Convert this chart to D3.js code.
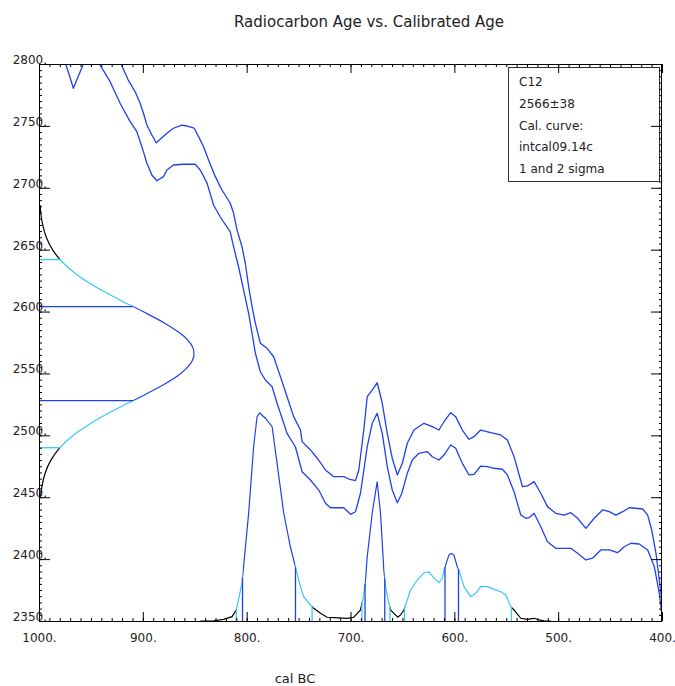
<!DOCTYPE html>
<html>
<head>
<meta charset="utf-8">
<script src="https://cdn.jsdelivr.net/npm/d3@7"></script>
<style>
  body { margin: 0; background: #fff; }
  svg { display: block; font-family: "DejaVu Sans", sans-serif; }
</style>
</head>
<body>
<div id="chart"></div>
<script>
// Radiocarbon calibration plot - C12, 2566±38, intcal09

// calibration curve envelope, [cal BC, 14C age]
const upperCurve = [
  [936, 2819], [921, 2800], [914, 2787], [907.4, 2777.6], [902.6, 2768.3], [899.4, 2760.2],
  [896.1, 2750.7], [891.3, 2742.6], [887.1, 2736.4], [883.3, 2739.2], [876.8, 2744],
  [870.5, 2748.1], [862.4, 2750.7], [857.5, 2749.9], [850.5, 2748.1], [846.3, 2741.3],
  [841.5, 2733.2], [836.7, 2722.4], [830.2, 2709], [823.8, 2698.2], [815.8, 2687.5],
  [812.6, 2679.4], [809.3, 2665.9], [804.5, 2652.4], [801.3, 2639], [798.1, 2620.1],
  [794.8, 2603.9], [791.6, 2590.5], [786.8, 2574.4], [780.4, 2570.3], [774, 2563.5],
  [767.5, 2547.4], [761.1, 2531.2], [754.7, 2515.1], [748.2, 2504.3], [746.6, 2494.9],
  [738.6, 2488.2], [732.1, 2481.5], [724.1, 2472], [716.1, 2466.6], [706.5, 2466.6],
  [701.6, 2464.7], [695.2, 2463.4], [692, 2472], [687.2, 2504.3], [683.9, 2531.2],
  [679.1, 2536.6], [674.3, 2542.5], [669.4, 2525.9], [664.6, 2501.6], [659.8, 2481.5],
  [654.9, 2468], [650.1, 2477.4], [645.3, 2493.6], [638.9, 2504.3], [629.3, 2509.7],
  [621.2, 2507], [614.8, 2504.3], [610, 2511], [603.5, 2518.3], [598.7, 2515.1],
  [592.3, 2504.3], [585.9, 2496.8], [581.1, 2498.9], [574.6, 2504.3], [565, 2502.1],
  [555.3, 2500.3], [548.9, 2496.2], [542.5, 2482.8], [534.4, 2458.5], [529.6, 2459.1],
  [523.2, 2462.6], [516.7, 2453.2], [510.3, 2442.4], [502.3, 2437], [494.3, 2435.6],
  [487.8, 2437.5], [481.3, 2433], [473.3, 2424.9], [465.3, 2433], [457.2, 2439.7],
  [450.8, 2438.3], [444.4, 2435.6], [437.9, 2438.3], [431.6, 2441.5], [425.1, 2441.1],
  [418.6, 2440.5], [413.8, 2435.6], [409.9, 2423.5], [405.8, 2404.7], [402.6, 2383.1],
  [399.3, 2361.6], [397.8, 2350.8], [396.5, 2340]
];

const lowerCurve = [
  [977.8, 2811], [974.2, 2800], [966.9, 2780.4], [957.3, 2800], [949.8, 2809.7],
  [941.8, 2800], [931.5, 2785.7], [921.9, 2768.3], [912.2, 2753.4], [905.8, 2745.3],
  [900.9, 2733.2], [896.1, 2719.8], [891.3, 2710.3], [886.5, 2705.7], [880.1, 2709],
  [876.8, 2714.4], [870.5, 2718.4], [860.8, 2719], [849.5, 2719], [844.7, 2714.4],
  [838.2, 2704], [831.9, 2686.1], [825.4, 2676.4], [815.8, 2664.3], [812.6, 2652.4],
  [807.8, 2636.2], [802.9, 2617.4], [798.1, 2598.6], [794.8, 2582.4], [791.6, 2566.3],
  [786.8, 2551.4], [782, 2544.7], [775.5, 2539.3], [770.7, 2525.9], [764.3, 2509.7],
  [761.1, 2501.6], [753.1, 2490.8], [746.6, 2470.6], [738.6, 2463.9], [730.6, 2455.8],
  [724.1, 2445.1], [719.3, 2441.5], [706.5, 2441.5], [700, 2436.2], [695.2, 2438.3],
  [690.4, 2453.2], [683.9, 2490.8], [679.1, 2509.7], [674.3, 2517.8], [669.4, 2501.6],
  [664.6, 2474.7], [659.8, 2455.9], [654.9, 2445.6], [650.8, 2452.6], [645.3, 2469.3],
  [640.5, 2480.1], [634.1, 2485.5], [626, 2486.8], [621.2, 2482.7], [614.8, 2480.1],
  [610, 2484.1], [603.5, 2492.2], [598.7, 2489.5], [592.3, 2477.4], [585.9, 2468],
  [581.1, 2468.5], [574.6, 2475.2], [568.1, 2474.7], [561.8, 2473.4], [553.7, 2472.6],
  [548.9, 2468], [542.5, 2454.5], [536, 2435.6], [531.2, 2433], [528, 2433.5],
  [523.2, 2437], [516.7, 2426.2], [510.3, 2414.1], [502.3, 2408.7], [494.3, 2408.7],
  [487.8, 2408.7], [481.3, 2404.7], [473.3, 2399.3], [466.9, 2400.7], [458.9, 2407.4],
  [450.8, 2407.4], [442.8, 2405.2], [436.4, 2410], [429.9, 2412.8], [421.9, 2412.2],
  [413.8, 2407.4], [407.4, 2393.9], [402.6, 2372.4], [399.3, 2349.5], [397, 2330]
];

// measured age distribution, [14C age, relative probability]
const ageProb = [
  [2450, 0.009], [2460, 0.021], [2470, 0.041], [2480, 0.077], [2490, 0.135],
  [2500, 0.221], [2510, 0.338], [2520, 0.480], [2530, 0.638], [2540, 0.791],
  [2550, 0.915], [2560, 0.988], [2566, 1.0], [2570, 0.995], [2580, 0.935],
  [2590, 0.819], [2600, 0.670], [2610, 0.512], [2620, 0.365], [2630, 0.243],
  [2640, 0.150], [2650, 0.087], [2660, 0.047], [2670, 0.024], [2680, 0.011], [2686, 0.008]
];
// sigma ranges, [high, low]
const ageOneSigma = [[2604, 2528]];
const ageTwoSigma = [[2642, 2490]];

// calibrated distribution, [cal BC, relative probability]
const calProb = [
  [844.7, 0], [831.9, 0.001], [822.2, 0.008], [814.1, 0.021], [810, 0.053], [804.5, 0.181],
  [798.1, 0.518], [793.3, 0.838], [790, 0.982], [787.5, 1.0], [782, 0.975], [775.5, 0.934],
  [770.7, 0.758], [764.3, 0.518], [757.9, 0.357], [753.1, 0.261], [748.2, 0.165],
  [745, 0.117], [738.6, 0.077], [735.4, 0.061], [728.9, 0.037], [722.5, 0.018],
  [716.1, 0.016], [703.2, 0.013], [696.8, 0.018], [690.4, 0.053], [688.1, 0.101],
  [685.5, 0.197], [683.9, 0.309], [679.1, 0.518], [674.3, 0.670], [671.1, 0.518],
  [667.9, 0.245], [666.2, 0.165], [663.1, 0.085], [661.4, 0.053], [658.2, 0.037],
  [654.4, 0.018], [651.8, 0.029], [648.6, 0.053], [646.9, 0.077], [642.1, 0.149],
  [635.7, 0.197], [629.3, 0.232], [624.5, 0.236], [619.7, 0.207], [614.8, 0.184],
  [611.6, 0.205], [610, 0.245], [605.2, 0.317], [603.1, 0.325], [600.4, 0.317],
  [597.1, 0.261], [595.6, 0.245], [590.7, 0.165], [584.2, 0.117], [579.4, 0.133],
  [574.6, 0.165], [568.1, 0.165], [561.8, 0.152], [555.3, 0.141], [550.5, 0.125],
  [545.7, 0.069], [542.5, 0.053], [536, 0.013], [529.6, 0.008], [523.2, 0.013],
  [518.4, 0.005], [513.6, 0.001], [507.1, 0]
];
const calOneSigma = [[804, 753], [686, 667], [609, 596]];
const calTwoSigma = [[810, 737], [689, 662], [648, 545]];

const xTicks = [1000, 900, 800, 700, 600, 500, 400];
const yTicks = [2350, 2400, 2450, 2500, 2550, 2600, 2650, 2700, 2750, 2800];
const legendLines = ["C12", "2566\u00b138", "Cal. curve:", "intcal09.14c", "1 and 2 sigma"];

const width = 675, height = 686;
const plotL = 39, plotR = 662, plotT = 64, plotB = 621;

const blue = "#2040ec", cyan = "#38c8f4";

const x = d3.scaleLinear().domain([1000, 400]).range([plotL, plotR]);
const y = d3.scaleLinear().domain([2350, 2800]).range([plotB, plotT]);
const gx = d3.scaleLinear().domain([0, 1]).range([plotL, 194]);   // age prob, sideways
const py = d3.scaleLinear().domain([0, 1]).range([plotB, 413]);   // cal prob, upward

function valueAt(pts, v) {
  for (let i = 0; i < pts.length - 1; i++) {
    const a = pts[i], b = pts[i + 1];
    if ((v - a[0]) * (v - b[0]) <= 0) {
      const t = (v - a[0]) / (b[0] - a[0]);
      return a[1] + t * (b[1] - a[1]);
    }
  }
  return 0;
}

// parts of the outer intervals not covered by the holes; intervals are [high, low]
function subtract(outer, holes) {
  const res = [];
  outer.forEach(([hi, lo]) => {
    let cur = hi;
    holes.filter(h => h[0] <= hi && h[1] >= lo)
      .sort((a, b) => b[0] - a[0])
      .forEach(h => {
        if (h[0] < cur) res.push([cur, h[0]]);
        cur = Math.min(cur, h[1]);
      });
    if (cur > lo) res.push([cur, lo]);
  });
  return res;
}

const svg = d3.select("#chart").append("svg")
  .attr("width", width)
  .attr("height", height);

const defs = svg.append("defs");
defs.append("clipPath").attr("id", "plot")
  .append("rect").attr("x", plotL).attr("y", plotT)
  .attr("width", plotR - plotL).attr("height", plotB - plotT);

// clip regions for sigma colouring
function clipAges(id, ranges) {
  const cp = defs.append("clipPath").attr("id", id);
  ranges.forEach(r => cp.append("rect")
    .attr("x", 0).attr("width", 400)
    .attr("y", y(r[0])).attr("height", y(r[1]) - y(r[0])));
}
function clipCals(id, ranges) {
  const cp = defs.append("clipPath").attr("id", id);
  ranges.forEach(r => cp.append("rect")
    .attr("x", x(r[0])).attr("width", x(r[1]) - x(r[0]))
    .attr("y", 300).attr("height", 330));
}
clipAges("age0", subtract([y.domain().slice().reverse()], ageTwoSigma));
clipAges("age2", subtract(ageTwoSigma, ageOneSigma));
clipAges("age1", ageOneSigma);
clipCals("cal0", subtract([x.domain()], calTwoSigma));
clipCals("cal2", subtract(calTwoSigma, calOneSigma));
clipCals("cal1", calOneSigma);

// title
svg.append("text")
  .attr("x", 369).attr("y", 27)
  .attr("text-anchor", "middle")
  .attr("font-size", 15)
  .attr("fill", "#222")
  .text("Radiocarbon Age vs. Calibrated Age");

const plot = svg.append("g").attr("clip-path", "url(#plot)");

// calibration curve
const calLine = d3.line().x(d => x(d[0])).y(d => y(d[1]));
[upperCurve, lowerCurve].forEach(c => {
  plot.append("path")
    .attr("d", calLine(c))
    .attr("fill", "none")
    .attr("stroke", blue)
    .attr("stroke-width", 1.3)
    .attr("stroke-linejoin", "round");
});

// age distribution on the left
const gLine = d3.line().x(d => gx(d[1])).y(d => y(d[0])).curve(d3.curveMonotoneY);
[["#000", "age0"], [cyan, "age2"], [blue, "age1"]].forEach(([col, clip]) => {
  plot.append("path")
    .attr("d", gLine(ageProb))
    .attr("clip-path", `url(#${clip})`)
    .attr("fill", "none")
    .attr("stroke", col)
    .attr("stroke-width", 1.2);
});
ageTwoSigma.flat().forEach(a => {
  plot.append("line")
    .attr("x1", plotL).attr("x2", gx(valueAt(ageProb, a)))
    .attr("y1", y(a)).attr("y2", y(a))
    .attr("stroke", cyan).attr("stroke-width", 1.3);
});
ageOneSigma.flat().forEach(a => {
  plot.append("line")
    .attr("x1", plotL).attr("x2", gx(valueAt(ageProb, a)))
    .attr("y1", y(a)).attr("y2", y(a))
    .attr("stroke", blue).attr("stroke-width", 1.3);
});

// calibrated distribution along the bottom
const pLine = d3.line().x(d => x(d[0])).y(d => py(d[1]));
[["#000", "cal0"], [cyan, "cal2"], [blue, "cal1"]].forEach(([col, clip]) => {
  plot.append("path")
    .attr("d", pLine(calProb))
    .attr("clip-path", `url(#${clip})`)
    .attr("fill", "none")
    .attr("stroke", col)
    .attr("stroke-width", 1.2);
});
calTwoSigma.flat().forEach(c => {
  plot.append("line")
    .attr("x1", x(c)).attr("x2", x(c))
    .attr("y1", plotB).attr("y2", py(valueAt(calProb, c)))
    .attr("stroke", cyan).attr("stroke-width", 1.3);
});
calOneSigma.flat().forEach(c => {
  plot.append("line")
    .attr("x1", x(c)).attr("x2", x(c))
    .attr("y1", plotB).attr("y2", py(valueAt(calProb, c)))
    .attr("stroke", blue).attr("stroke-width", 1.3);
});

// legend
const lg = svg.append("g");
lg.append("rect")
  .attr("x", 508.5).attr("y", 67.5)
  .attr("width", 151).attr("height", 114)
  .attr("fill", "#fff").attr("stroke", "#333");
lg.selectAll("text").data(legendLines).enter().append("text")
  .attr("x", 519)
  .attr("y", (d, i) => 86 + i * 21.8)
  .attr("font-size", 12)
  .attr("fill", "#222")
  .text(d => d);

// axes: frame, minor and major ticks
const xMinor = d3.range(400, 1001, 10);
const yMinor = d3.range(2350, 2801, 5);

function styleAxis(g) {
  g.select(".domain").remove();
  g.selectAll("line").attr("stroke", "#000");
}

svg.append("g").attr("transform", `translate(0,${plotB})`)
  .call(d3.axisBottom(x).tickValues(xMinor).tickSize(-3).tickFormat(""))
  .call(styleAxis);
svg.append("g").attr("transform", `translate(0,${plotB})`)
  .call(d3.axisBottom(x).tickValues(xTicks).tickSize(-9).tickPadding(12).tickFormat(d => d + "."))
  .call(styleAxis)
  .call(g => g.selectAll("text").attr("font-size", 12).attr("fill", "#222")
    .attr("font-family", "DejaVu Sans, sans-serif"));

svg.append("g").attr("transform", `translate(0,${plotT})`)
  .call(d3.axisTop(x).tickValues(xMinor).tickSize(-3).tickFormat(""))
  .call(styleAxis);
svg.append("g").attr("transform", `translate(0,${plotT})`)
  .call(d3.axisTop(x).tickValues(xTicks).tickSize(-9).tickFormat(""))
  .call(styleAxis);

svg.append("g").attr("transform", `translate(${plotL},0)`)
  .call(d3.axisLeft(y).tickValues(yMinor).tickSize(-3).tickFormat(""))
  .call(styleAxis);
svg.append("g").attr("transform", `translate(${plotL},0)`)
  .call(d3.axisLeft(y).tickValues(yTicks).tickSize(-11).tickPadding(-8).tickFormat(d => d + "."))
  .call(styleAxis)
  .call(g => g.selectAll("text").attr("font-size", 12).attr("fill", "#222")
    .attr("dy", "-0.05em").attr("font-family", "DejaVu Sans, sans-serif"));

svg.append("g").attr("transform", `translate(${plotR},0)`)
  .call(d3.axisRight(y).tickValues(yMinor).tickSize(-3).tickFormat(""))
  .call(styleAxis);
svg.append("g").attr("transform", `translate(${plotR},0)`)
  .call(d3.axisRight(y).tickValues(yTicks).tickSize(-11).tickFormat(""))
  .call(styleAxis);

svg.append("rect")
  .attr("x", plotL + 0.5).attr("y", plotT + 0.5)
  .attr("width", plotR - plotL - 1).attr("height", plotB - plotT)
  .attr("fill", "none").attr("stroke", "#000");

svg.append("text")
  .attr("x", 295).attr("y", 683)
  .attr("text-anchor", "middle")
  .attr("font-size", 13)
  .attr("fill", "#222")
  .text("cal BC");
</script>
</body>
</html>
